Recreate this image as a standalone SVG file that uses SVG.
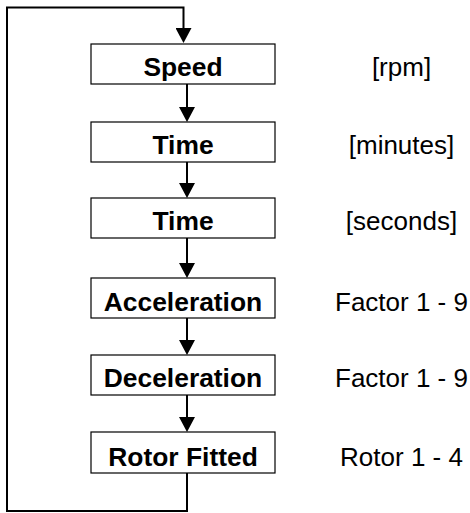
<svg xmlns="http://www.w3.org/2000/svg" width="470" height="513" viewBox="0 0 470 513">
<style>
.box{fill:#fff;stroke:#000;stroke-width:1.2}
.lbl{font-family:"Liberation Sans",Arial,sans-serif;font-size:26.4px;font-weight:bold;text-anchor:middle;fill:#000}
.unit{font-family:"Liberation Sans",Arial,sans-serif;font-size:26px;text-anchor:middle;fill:#000}
.conn{fill:none;stroke:#000;stroke-width:2}
</style>
<defs>
<marker id="arr" markerUnits="userSpaceOnUse" viewBox="0 0 15 16" refX="7" refY="8" markerWidth="15" markerHeight="16" orient="auto">
<path d="M0,0 L15,8 L0,16 Z" fill="#000"/>
</marker>
</defs>
<g id="connectors">
<polyline class="conn" points="187,473 187,511 7,511 7,7.5 183.5,7.5 183.5,35" marker-end="url(#arr)"/>
<line class="conn" x1="187" y1="84" x2="187" y2="114" marker-end="url(#arr)"/>
<line class="conn" x1="187" y1="162" x2="187" y2="190" marker-end="url(#arr)"/>
<line class="conn" x1="187" y1="238" x2="187" y2="270" marker-end="url(#arr)"/>
<line class="conn" x1="187" y1="318" x2="187" y2="347" marker-end="url(#arr)"/>
<line class="conn" x1="187" y1="395" x2="187" y2="424" marker-end="url(#arr)"/>
</g>
<g id="speed">
<rect class="box" x="91" y="44" width="184" height="40"/>
<text class="lbl" x="183" y="76">Speed</text>
<text class="unit" x="401.5" y="76">[rpm]</text>
</g>
<g id="time-min">
<rect class="box" x="91" y="122" width="184" height="40"/>
<text class="lbl" x="183" y="154">Time</text>
<text class="unit" x="401.5" y="154">[minutes]</text>
</g>
<g id="time-sec">
<rect class="box" x="91" y="198" width="184" height="40"/>
<text class="lbl" x="183" y="230">Time</text>
<text class="unit" x="401.5" y="230">[seconds]</text>
</g>
<g id="acceleration">
<rect class="box" x="91" y="278" width="184" height="40"/>
<text class="lbl" x="183" y="310.5">Acceleration</text>
<text class="unit" x="401.5" y="310.5">Factor 1 - 9</text>
</g>
<g id="deceleration">
<rect class="box" x="91" y="355" width="184" height="40"/>
<text class="lbl" x="183" y="387">Deceleration</text>
<text class="unit" x="401.5" y="387">Factor 1 - 9</text>
</g>
<g id="rotor">
<rect class="box" x="91" y="432" width="184" height="41"/>
<text class="lbl" x="183" y="465.5">Rotor Fitted</text>
<text class="unit" x="401.5" y="465.5">Rotor 1 - 4</text>
</g>
</svg>
